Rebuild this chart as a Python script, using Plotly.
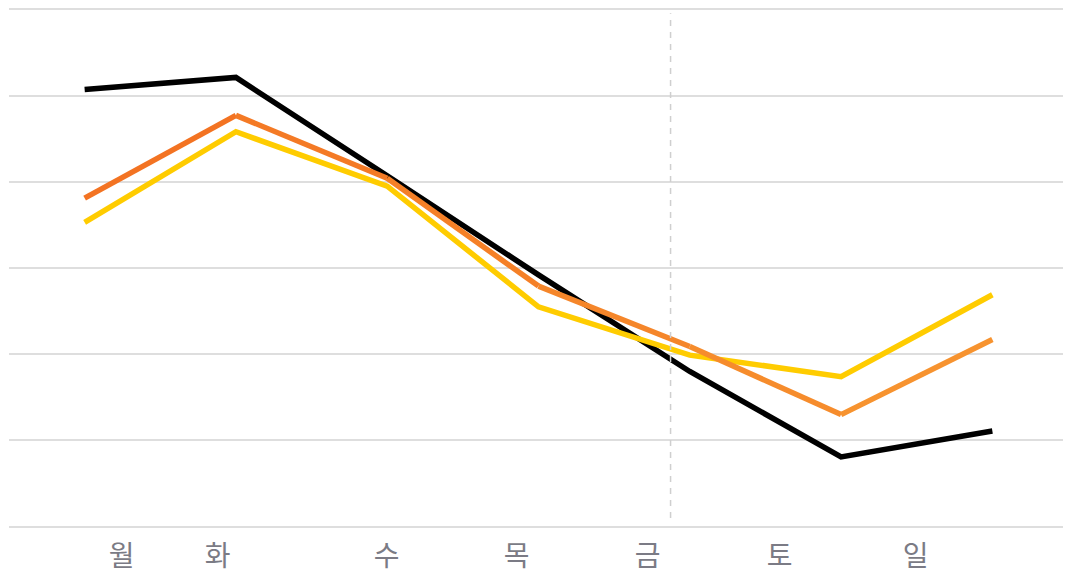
import plotly.graph_objects as go

# ---- data ----
days = ["월", "화", "수", "목", "금", "토", "일"]
x_idx = [0, 1, 2, 3, 4, 5, 6]
black_vals = [5.07, 5.21, 4.07, 2.92, 1.80, 0.81, 1.11]
orange_vals = [3.81, 4.77, 4.04, 2.79, 2.09, 1.30, 2.17]
yellow_vals = [3.53, 4.58, 3.95, 2.55, 1.99, 1.74, 2.69]
label_pos = [0.245, 0.879, 1.996, 2.855, 3.721, 4.594, 5.492]
divider_x = 3.873

fig = go.Figure()

fig.add_trace(go.Scatter(x=x_idx, y=black_vals, mode="lines",
                         line=dict(color="#000000", width=5.5), hoverinfo="skip"))
fig.add_trace(go.Scatter(x=x_idx, y=yellow_vals, mode="lines",
                         line=dict(color="#FFCC00", width=5.5), hoverinfo="skip"))

# orange line with a left-to-right gradient, drawn segment by segment
c0 = (243, 112, 33)
c1 = (247, 150, 48)
n = len(x_idx) - 1
for i in range(n):
    t = (i + 0.5) / n
    col = tuple(round(c0[k] + (c1[k] - c0[k]) * t) for k in range(3))
    fig.add_trace(go.Scatter(x=x_idx[i:i + 2], y=orange_vals[i:i + 2], mode="lines",
                             line=dict(color="rgb(%d,%d,%d)" % col, width=5.5),
                             hoverinfo="skip"))

fig.add_shape(type="line", xref="x", yref="paper", x0=divider_x, x1=divider_x,
              y0=0.019, y1=0.99, line=dict(color="#cfcfcf", width=1.5, dash="6px,6px"))

fig.update_layout(
    width=1063, height=567,
    margin=dict(l=1, r=3, t=0, b=47),
    paper_bgcolor="white", plot_bgcolor="white",
    showlegend=False,
    font=dict(family="Noto Sans CJK KR, Noto Sans, sans-serif"),
    xaxis=dict(range=[-0.5, 6.5], showgrid=False, zeroline=False, showline=False,
               tickmode="array", tickvals=label_pos, ticktext=days,
               tickfont=dict(size=28, color="#7b7b85"), ticks="",
               ticklabelstandoff=9, fixedrange=True),
    yaxis=dict(range=[-0.015, 6.015], tickvals=[0, 1, 2, 3, 4, 5, 6], showticklabels=False,
               showgrid=True, gridcolor="#dedede", gridwidth=2, zeroline=False,
               showline=False, ticks="", fixedrange=True),
)

fig.write_html("out.html")
